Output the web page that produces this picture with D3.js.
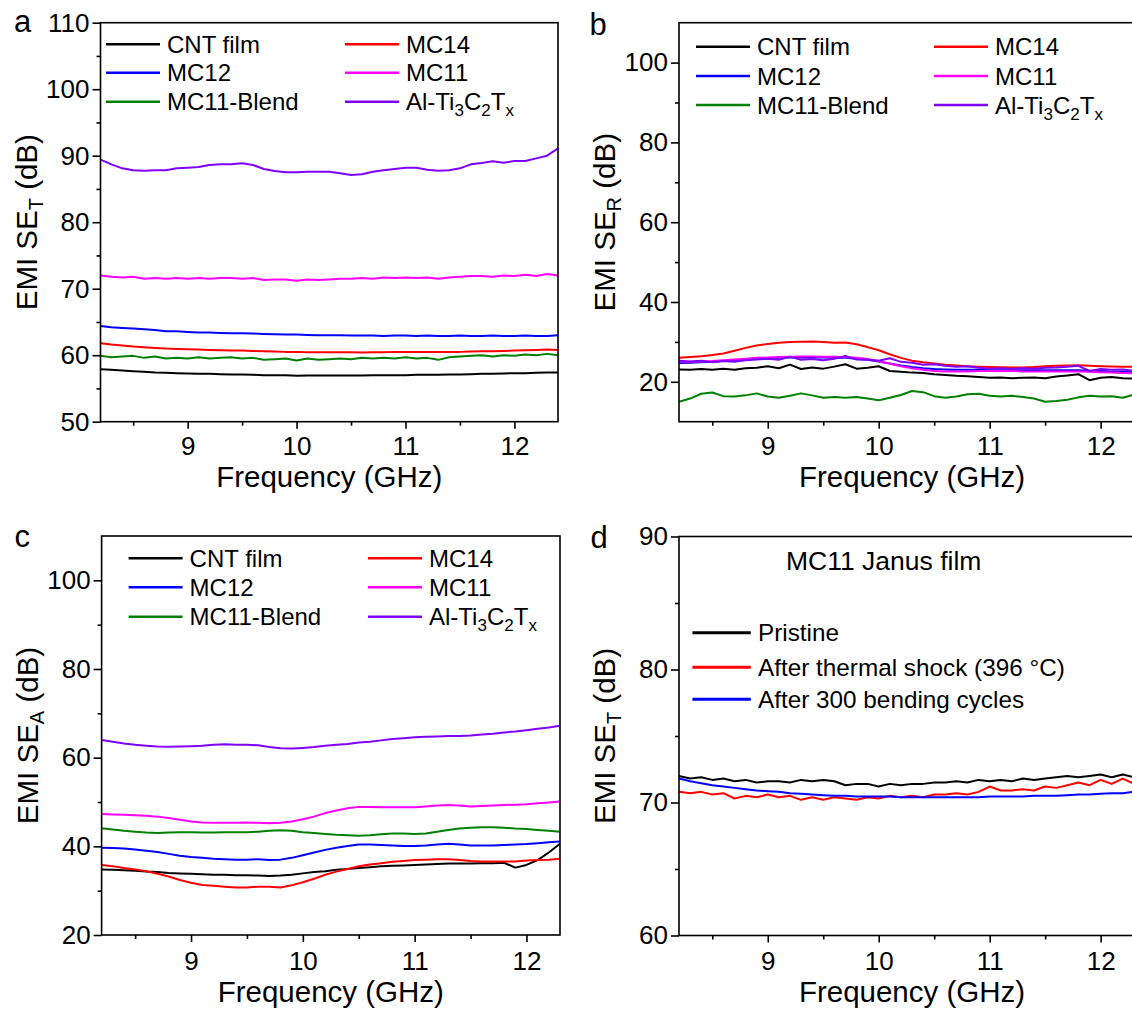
<!DOCTYPE html>
<html>
  <head>
    <title>EMI shielding panels</title>
    <script src="https://d3js.org/d3.v7.min.js"></script>
    <style>
      body { margin: 0; background: #fff; }
      text { font-family: Arial, "Liberation Sans", sans-serif; fill: #000; }
      .tick text { font-size: 26px; }
      .legend text { font-size: 24px; }
      .axis-title { font-size: 29.5px; }
      .panel-label { font-size: 31px; }
    </style>
  </head>
  <body>
    <svg width="1132" height="1012"></svg>
    <script>
      // frequency grid (GHz)
      const freq = [8.2, 8.3, 8.4, 8.5, 8.6, 8.7, 8.8, 8.9, 9.0, 9.1, 9.2, 9.3, 9.4, 9.5, 9.6, 9.7, 9.8, 9.9,
        10.0, 10.1, 10.2, 10.3, 10.4, 10.5, 10.6, 10.7, 10.8, 10.9, 11.0, 11.1, 11.2, 11.3, 11.4, 11.5,
        11.6, 11.7, 11.8, 11.9, 12.0, 12.1, 12.2, 12.3, 12.4];

      const sampleNames = ["CNT film", "MC14", "MC12", "MC11", "MC11-Blend", "Al-Ti3C2Tx"];
      const sampleColors = ["#000000", "#ff0000", "#0000ff", "#ff00ff", "#008000", "#8000ff"];

      // (a) total SE
      const seT_cnt = [57.9, 57.8, 57.7, 57.6, 57.5, 57.4, 57.35, 57.3, 57.25, 57.2, 57.2, 57.15, 57.1, 57.1, 57.05, 57.0, 57.0, 57.0,
        56.9, 56.95, 56.95, 56.95, 56.95, 56.95, 56.95, 57.0, 57.0, 57.0, 57.0, 57.05, 57.05, 57.05, 57.1, 57.1,
        57.15, 57.2, 57.2, 57.25, 57.3, 57.3, 57.35, 57.4, 57.4];
      const seT_mc14 = [61.8, 61.6, 61.45, 61.3, 61.2, 61.1, 61.0, 60.95, 60.9, 60.85, 60.8, 60.75, 60.7, 60.7, 60.65, 60.6, 60.55, 60.5,
        60.5, 60.45, 60.45, 60.45, 60.45, 60.45, 60.4, 60.45, 60.45, 60.5, 60.5, 60.5, 60.5, 60.5, 60.5, 60.5,
        60.55, 60.6, 60.6, 60.65, 60.7, 60.75, 60.8, 60.85, 60.8];
      const seT_mc12 = [64.4, 64.2, 64.1, 64.0, 63.9, 63.8, 63.6, 63.6, 63.5, 63.4, 63.4, 63.35, 63.3, 63.3, 63.25, 63.2, 63.15, 63.1,
        63.1, 63.05, 63.0, 63.0, 63.0, 62.95, 62.95, 62.95, 62.9, 62.95, 62.95, 62.9, 62.95, 62.9, 62.9, 62.95,
        62.9, 62.9, 62.95, 62.9, 62.9, 62.95, 62.9, 62.9, 63.0];
      const seT_mc11 = [72.0, 71.8, 71.7, 71.8, 71.5, 71.6, 71.5, 71.6, 71.5, 71.6, 71.5, 71.6, 71.6, 71.5, 71.6, 71.3, 71.4, 71.4,
        71.2, 71.4, 71.3, 71.4, 71.5, 71.5, 71.6, 71.5, 71.7, 71.6, 71.7, 71.6, 71.7, 71.5, 71.7, 71.8,
        71.9, 71.9, 71.8, 72.0, 71.9, 72.1, 71.9, 72.2, 72.0];
      const seT_blend = [59.9, 59.7, 59.8, 59.9, 59.6, 59.8, 59.5, 59.6, 59.5, 59.7, 59.5, 59.6, 59.7, 59.5, 59.6, 59.3, 59.4, 59.5,
        59.2, 59.5, 59.3, 59.4, 59.5, 59.4, 59.6, 59.5, 59.6, 59.5, 59.7, 59.5, 59.6, 59.3, 59.7, 59.8,
        59.9, 60.0, 59.8, 60.0, 59.9, 60.1, 60.0, 60.2, 60.0];
      const seT_mxene = [89.4, 88.7, 88.1, 87.8, 87.75, 87.8, 87.8, 88.1, 88.2, 88.3, 88.6, 88.7, 88.7, 88.85, 88.6, 88.0, 87.7, 87.5,
        87.5, 87.6, 87.6, 87.6, 87.35, 87.1, 87.2, 87.6, 87.8, 88.0, 88.2, 88.2, 87.9, 87.75, 87.8, 88.1,
        88.7, 88.9, 89.15, 88.95, 89.2, 89.2, 89.6, 90.0, 91.1];

      // (b) reflection SE
      const seR_cnt = [23.1, 23.0, 23.2, 23.0, 23.3, 23.0, 23.4, 23.5, 23.9, 23.4, 24.3, 23.2, 23.6, 23.3, 23.8, 24.4, 23.3, 23.5,
        23.9, 22.7, 22.5, 22.3, 22.2, 21.9, 21.7, 21.5, 21.4, 21.2, 21.0, 21.1, 20.9, 21.0, 21.1, 20.9,
        21.3, 21.6, 21.9, 20.4, 21.0, 21.2, 20.9, 20.8, 20.8];
      const seR_mc14 = [26.0, 26.2, 26.4, 26.7, 27.1, 27.8, 28.5, 29.1, 29.5, 29.8, 29.95, 30.05, 30.1, 30.0, 29.8, 29.85, 29.4, 28.7,
        27.9, 26.9, 26.0, 25.3, 24.9, 24.6, 24.3, 24.1, 23.9, 23.8, 23.7, 23.65, 23.6, 23.6, 23.7, 23.9,
        24.0, 24.1, 24.15, 24.0, 23.9, 23.85, 23.8, 23.75, 23.7];
      const seR_mc12 = [24.7, 24.8, 24.9, 25.0, 25.2, 25.4, 25.6, 25.8, 25.9, 26.0, 26.1, 26.1, 26.1, 26.1, 26.0, 26.0, 25.8, 25.5,
        25.1, 24.6, 24.1, 23.7, 23.4, 23.2, 23.1, 23.0, 23.0, 23.0, 22.9, 22.9, 22.9, 22.9, 22.9, 22.9,
        22.9, 22.9, 22.9, 22.8, 22.7, 22.6, 22.5, 22.4, 22.3];
      const seR_mc11 = [25.0, 25.0, 25.1, 25.2, 25.4, 25.6, 25.8, 26.0, 26.1, 26.2, 26.3, 26.35, 26.35, 26.3, 26.3, 26.2, 26.0, 25.7,
        25.2, 24.5, 23.9, 23.4, 23.0, 22.7, 22.6, 22.6, 22.6, 22.7, 22.7, 22.7, 22.7, 22.6, 22.6, 22.6,
        22.6, 22.6, 22.6, 22.5, 22.4, 22.3, 22.2, 22.1, 22.0];
      const seR_blend = [15.0, 15.8, 17.0, 17.3, 16.4, 16.3, 16.6, 17.1, 16.3, 16.0, 16.5, 17.1, 16.6, 16.0, 16.2, 16.0, 16.2, 15.8,
        15.4, 16.0, 16.7, 17.7, 17.4, 16.4, 16.0, 16.3, 16.9, 17.0, 16.5, 16.3, 16.5, 16.2, 15.8, 15.0,
        15.2, 15.5, 16.1, 16.5, 16.3, 16.4, 16.0, 16.8, 16.8];
      const seR_mxene = [25.3, 25.1, 25.3, 24.9, 25.2, 25.0, 25.4, 25.6, 25.8, 25.5, 26.3, 25.5, 25.7, 25.4, 25.8, 26.5, 25.6, 25.5,
        25.3, 25.9, 25.0, 24.8, 24.3, 24.4, 24.0, 23.8, 23.9, 23.5, 23.3, 23.4, 23.2, 23.4, 23.3, 23.5,
        23.6, 23.8, 24.0, 22.7, 23.2, 23.0, 23.1, 22.8, 22.7];

      // (c) absorption SE (8.2 - 12.3 GHz)
      const seA_cnt = [34.8, 34.7, 34.6, 34.5, 34.3, 34.2, 34.0, 33.9, 33.8, 33.7, 33.6, 33.6, 33.5, 33.5, 33.4, 33.3, 33.4, 33.6,
        33.9, 34.2, 34.4, 34.7, 34.9, 35.1, 35.3, 35.5, 35.6, 35.7, 35.8, 35.9, 36.0, 36.1, 36.1, 36.1,
        36.2, 36.2, 36.3, 35.2, 35.8, 36.9, 38.6, 40.6];
      const seA_mc14 = [35.8, 35.5, 35.1, 34.8, 34.4, 33.8, 33.2, 32.4, 31.8, 31.3, 31.1, 30.9, 30.7, 30.7, 30.9, 30.9, 30.7, 31.2,
        31.9, 32.7, 33.6, 34.3, 34.9, 35.5, 35.9, 36.2, 36.5, 36.7, 36.9, 37.0, 37.1, 37.1, 36.9, 36.7,
        36.6, 36.6, 36.6, 36.6, 36.8, 36.9, 37.0, 37.2];
      const seA_mc12 = [39.7, 39.6, 39.5, 39.3, 39.0, 38.7, 38.3, 37.9, 37.6, 37.4, 37.2, 37.1, 37.0, 37.0, 37.1, 36.9, 37.0, 37.4,
        38.0, 38.6, 39.2, 39.7, 40.1, 40.4, 40.4, 40.3, 40.2, 40.1, 40.1, 40.2, 40.4, 40.6, 40.4, 40.2,
        40.2, 40.2, 40.3, 40.4, 40.5, 40.7, 40.9, 41.1];
      const seA_mc11 = [47.3, 47.2, 47.1, 47.0, 46.9, 46.7, 46.4, 46.0, 45.6, 45.4, 45.3, 45.3, 45.3, 45.4, 45.3, 45.2, 45.3, 45.6,
        46.1, 46.7, 47.5, 48.1, 48.6, 48.9, 48.9, 48.8, 48.8, 48.8, 48.8, 49.0, 49.2, 49.3, 49.2, 49.0,
        49.1, 49.2, 49.3, 49.4, 49.5, 49.7, 49.9, 50.1];
      const seA_blend = [44.1, 43.8, 43.5, 43.3, 43.1, 43.0, 43.1, 43.2, 43.2, 43.1, 43.1, 43.2, 43.2, 43.2, 43.3, 43.5, 43.6, 43.5,
        43.2, 43.0, 42.8, 42.6, 42.5, 42.4, 42.5, 42.7, 42.9, 42.9, 42.8, 42.9, 43.3, 43.7, 44.0, 44.2,
        44.3, 44.3, 44.2, 44.0, 43.9, 43.7, 43.5, 43.3];
      const seA_mxene = [64.0, 63.6, 63.2, 62.9, 62.7, 62.5, 62.45, 62.5, 62.6, 62.7, 62.9, 63.0, 62.9, 62.9, 62.8, 62.4, 62.1, 62.05,
        62.2, 62.4, 62.7, 62.9, 63.1, 63.4, 63.6, 63.9, 64.2, 64.4, 64.6, 64.7, 64.8, 64.9, 64.9, 65.0,
        65.2, 65.4, 65.7, 65.9, 66.2, 66.5, 66.8, 67.2];

      // (d) MC11 Janus film durability
      const durabilityNames = ["Pristine", "After thermal shock (396 \u00b0C)", "After 300 bending cycles"];
      const durabilityColors = ["#000000", "#ff0000", "#0000ff"];
      const janusPristine = [72.0, 71.8, 71.9, 71.7, 71.8, 71.6, 71.7, 71.5, 71.6, 71.6, 71.5, 71.7, 71.6, 71.7, 71.6, 71.3, 71.4, 71.4,
        71.2, 71.4, 71.3, 71.4, 71.4, 71.5, 71.5, 71.6, 71.5, 71.7, 71.6, 71.7, 71.6, 71.8, 71.7, 71.8,
        71.9, 72.0, 71.9, 72.0, 72.1, 71.9, 72.1, 71.9, 72.1];
      const janusThermal = [70.8, 70.7, 70.8, 70.6, 70.7, 70.3, 70.5, 70.4, 70.6, 70.4, 70.5, 70.2, 70.4, 70.2, 70.4, 70.3, 70.2, 70.4,
        70.3, 70.5, 70.4, 70.5, 70.4, 70.6, 70.6, 70.7, 70.6, 70.8, 71.2, 70.9, 70.9, 71.0, 70.9, 71.2,
        71.1, 71.3, 71.5, 71.3, 71.7, 71.4, 71.8, 71.4, 71.5];
      const janusBending = [71.8, 71.6, 71.45, 71.3, 71.2, 71.1, 71.0, 70.9, 70.85, 70.8, 70.7, 70.65, 70.6, 70.55, 70.5, 70.5, 70.45, 70.45,
        70.45, 70.45, 70.4, 70.4, 70.4, 70.4, 70.4, 70.4, 70.4, 70.4, 70.45, 70.45, 70.45, 70.45, 70.5, 70.5,
        70.5, 70.55, 70.6, 70.6, 70.65, 70.7, 70.7, 70.8, 70.8];

      const svg = d3.select("svg");

      // write a label made of [text, isSubscript] parts
      function richText(sel, parts, subSize, subShift) {
        let shifted = false;
        parts.forEach(([t, sub]) => {
          const ts = sel.append("tspan").text(t);
          if (sub && !shifted) { ts.attr("dy", subShift).style("font-size", subSize + "px"); shifted = true; }
          else if (sub) { ts.style("font-size", subSize + "px"); }
          else if (shifted) { ts.attr("dy", -subShift); shifted = false; }
        });
      }

      function labelParts(name) {
        if (name === "Al-Ti3C2Tx") return [["Al-Ti", false], ["3", true], ["C", false], ["2", true], ["T", false], ["x", true]];
        return [[name, false]];
      }

      function drawPanel(p) {
        const x = d3.scaleLinear().domain(p.xDomain).range([p.left, p.right]);
        const y = d3.scaleLinear().domain(p.yDomain).range([p.bottom, p.top]);
        const g = svg.append("g");

        const clipId = "clip-" + p.letter;
        g.append("clipPath").attr("id", clipId)
          .append("rect")
            .attr("x", p.left).attr("y", p.top)
            .attr("width", p.right - p.left).attr("height", p.bottom - p.top);

        const line = d3.line()
          .x((d, i) => x(freq[i]))
          .y(d => y(d));

        g.append("g").attr("clip-path", `url(#${clipId})`)
          .selectAll("path")
          .data(p.series)
          .join("path")
            .attr("d", d => line(d.values))
            .attr("fill", "none")
            .attr("stroke", d => d.color)
            .attr("stroke-width", 2)
            .attr("stroke-linejoin", "round");

        // frame
        g.append("rect")
          .attr("x", p.left).attr("y", p.top)
          .attr("width", p.right - p.left).attr("height", p.bottom - p.top)
          .attr("fill", "none").attr("stroke", "#000").attr("stroke-width", 1.6);

        // axes: major + minor ticks, all pointing out
        g.append("g").attr("transform", `translate(0,${p.bottom})`)
          .call(d3.axisBottom(x).tickValues(p.xMajor).tickSize(7).tickSizeOuter(0).tickPadding(p.xPad).tickFormat(d3.format("d")));
        g.append("g").attr("transform", `translate(0,${p.bottom})`)
          .call(d3.axisBottom(x).tickValues(p.xMinor).tickSize(4).tickSizeOuter(0).tickFormat(""));
        g.append("g").attr("transform", `translate(${p.left},0)`)
          .call(d3.axisLeft(y).tickValues(p.yMajor).tickSize(8).tickSizeOuter(0).tickPadding(3).tickFormat(d3.format("d")));
        g.append("g").attr("transform", `translate(${p.left},0)`)
          .call(d3.axisLeft(y).tickValues(p.yMinor).tickSize(4).tickSizeOuter(0).tickFormat(""));
        g.selectAll(".domain").remove();
        g.selectAll(".tick line").attr("stroke", "#000").attr("stroke-width", 1.6);
        g.selectAll(".tick text").attr("fill", "#000").style("font-family", "Arial, 'Liberation Sans', sans-serif");

        // axis titles
        g.append("text")
          .attr("class", "axis-title")
          .attr("x", (p.left + p.right) / 2)
          .attr("y", p.bottom + p.titleGap)
          .attr("text-anchor", "middle")
          .text("Frequency (GHz)");

        const yt = g.append("text")
          .attr("class", "axis-title")
          .attr("text-anchor", "middle")
          .attr("transform", `translate(${p.left - 64},${(p.top + p.bottom) / 2}) rotate(-90)`);
        richText(yt, [["EMI SE", false], [p.ySub, true], [" (dB)", false]], 20, 6);

        g.append("text")
          .attr("class", "panel-label")
          .attr("x", p.labelX).attr("y", p.labelY)
          .text(p.letter);

        return { x, y, g };
      }

      function drawSampleLegend(g, p) {
        const lg = g.append("g").attr("class", "legend");
        p.series.forEach((s, i) => {
          const col = i % 2, row = Math.floor(i / 2);
          const lx = p.legendCols[col];
          const ly = p.legendRows[row];
          lg.append("line")
            .attr("x1", lx).attr("x2", lx + 54)
            .attr("y1", ly).attr("y2", ly)
            .attr("stroke", s.color).attr("stroke-width", 2.5);
          const t = lg.append("text")
            .attr("x", lx + 61).attr("y", ly + 8.6);
          richText(t, labelParts(s.name), 17, 6);
        });
      }

      const xMajor = [9, 10, 11, 12];
      const xMinor = [8.5, 9.5, 10.5, 11.5];

      function samples(vals) {
        return vals.map((v, i) => ({ name: sampleNames[i], color: sampleColors[i], values: v }));
      }

      const panelA = {
        letter: "a", labelX: 14, labelY: 32,
        left: 100.5, right: 558, top: 22.7, bottom: 421.7, xPad: 8, titleGap: 65.5,
        xDomain: [8.2, 12.4], yDomain: [50, 110],
        xMajor, xMinor,
        yMajor: [50, 60, 70, 80, 90, 100, 110], yMinor: [55, 65, 75, 85, 95, 105],
        ySub: "T",
        series: samples([seT_cnt, seT_mc14, seT_mc12, seT_mc11, seT_blend, seT_mxene]),
        legendCols: [106, 345], legendRows: [44.3, 72.7, 101.7]
      };
      const panelB = {
        letter: "b", labelX: 589.5, labelY: 35,
        left: 679, right: 1145, top: 22.7, bottom: 421.7, xPad: 8, titleGap: 65.5,
        xDomain: [8.2, 12.4], yDomain: [10, 110],
        xMajor, xMinor,
        yMajor: [20, 40, 60, 80, 100], yMinor: [30, 50, 70, 90],
        ySub: "R",
        series: samples([seR_cnt, seR_mc14, seR_mc12, seR_mc11, seR_blend, seR_mxene]),
        legendCols: [696, 934], legendRows: [46.7, 76, 105]
      };
      const panelC = {
        letter: "c", labelX: 14.6, labelY: 546.7,
        left: 101.6, right: 560, top: 536, bottom: 935, xPad: 9.5, titleGap: 66.7,
        xDomain: [8.2, 12.3], yDomain: [20, 110],
        xMajor, xMinor,
        yMajor: [20, 40, 60, 80, 100], yMinor: [30, 50, 70, 90],
        ySub: "A",
        series: samples([seA_cnt, seA_mc14, seA_mc12, seA_mc11, seA_blend, seA_mxene]),
        legendCols: [128.6, 368], legendRows: [558.3, 587.3, 616.7]
      };
      const panelD = {
        letter: "d", labelX: 590.5, labelY: 548.3,
        left: 679, right: 1145, top: 536.5, bottom: 935.5, xPad: 9.5, titleGap: 66.7,
        xDomain: [8.2, 12.4], yDomain: [60, 90],
        xMajor, xMinor,
        yMajor: [60, 70, 80, 90], yMinor: [65, 75, 85],
        ySub: "T",
        series: [janusPristine, janusThermal, janusBending].map((v, i) => ({ name: durabilityNames[i], color: durabilityColors[i], values: v }))
      };

      [panelA, panelB, panelC].forEach(p => {
        const { g } = drawPanel(p);
        drawSampleLegend(g, p);
      });

      const d = drawPanel(panelD);
      d.g.append("text")
        .attr("x", 786).attr("y", 570)
        .style("font-size", "26.5px")
        .text("MC11 Janus film");
      const dl = d.g.append("g").attr("class", "legend");
      const dRows = [632.7, 667.3, 699.3];
      panelD.series.forEach((s, i) => {
        dl.append("line")
          .attr("x1", 692.4).attr("x2", 750.8)
          .attr("y1", dRows[i]).attr("y2", dRows[i])
          .attr("stroke", s.color).attr("stroke-width", 3);
        dl.append("text")
          .attr("x", 758).attr("y", dRows[i] + 8.7)
          .style("font-size", "24.3px")
          .text(s.name);
      });
    </script>
  </body>
</html>
